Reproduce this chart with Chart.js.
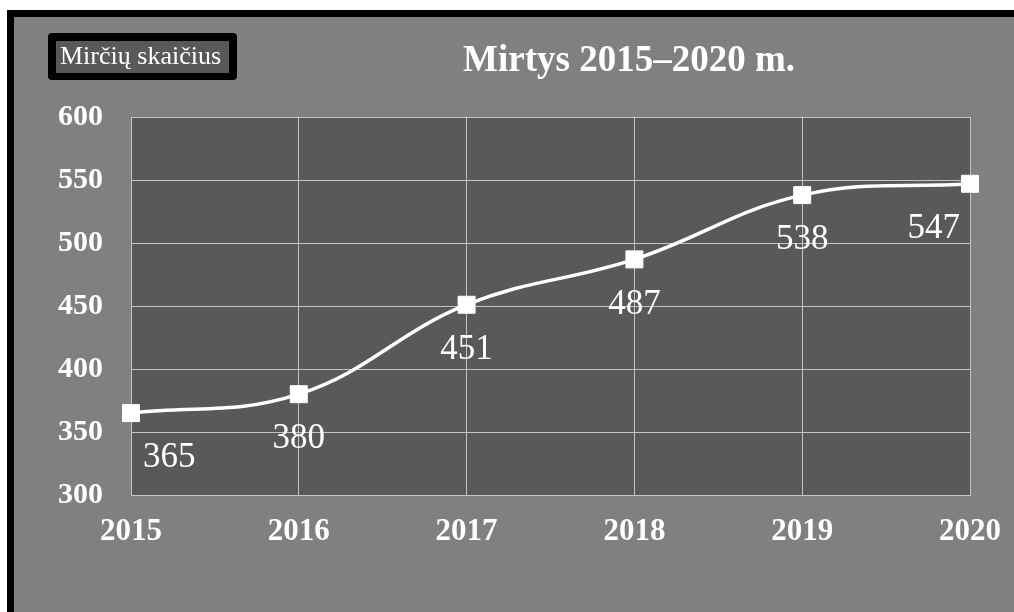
<!DOCTYPE html>
<html>
<head>
<meta charset="utf-8">
<script src="https://cdn.jsdelivr.net/npm/chart.js@4/dist/chart.umd.min.js"></script>
<style>
  html, body { margin: 0; padding: 0; background: #fff; }
  canvas { display: block; }
</style>
</head>
<body>
<canvas id="grafikas" width="1014" height="612"></canvas>
<script>
// Duomenys
const metai = ['2015', '2016', '2017', '2018', '2019', '2020'];
const mirtys = [365, 380, 451, 487, 538, 547];
const serijosPavadinimas = 'Mirčių skaičius';
const pavadinimas = 'Mirtys 2015–2020 m.';
const yMin = 300, yMax = 600, yZingsnis = 50;

const serif = "'Liberation Serif', 'Times New Roman', serif";
const tinklas = '#c4c4c4';

// Fonas, rėmelis ir braižymo srities spalva
const fonas = {
  id: 'fonas',
  beforeDraw(chart) {
    const c = chart.ctx, a = chart.chartArea;
    c.save();
    c.fillStyle = '#ffffff';
    c.fillRect(0, 0, chart.width, chart.height);
    c.fillStyle = '#000000';
    c.fillRect(7, 10, chart.width, chart.height);
    c.fillStyle = '#808080';
    c.fillRect(14, 17, chart.width, chart.height);
    c.fillStyle = '#595959';
    c.fillRect(a.left, a.top, a.right - a.left, a.bottom - a.top);
    c.restore();
  }
};

// Reikšmių etiketės po taškais
const etiketes = {
  id: 'etiketes',
  afterDatasetsDraw(chart) {
    const c = chart.ctx, a = chart.chartArea;
    const meta = chart.getDatasetMeta(0);
    c.save();
    c.font = '35px ' + serif;
    c.fillStyle = '#ffffff';
    c.textAlign = 'center';
    c.textBaseline = 'middle';
    meta.data.forEach((p, i) => {
      const t = String(chart.data.datasets[0].data[i]);
      const w = c.measureText(t).width;
      let x = p.x;
      x = Math.max(x, a.left + 12 + w / 2);
      x = Math.min(x, a.right - 10 - w / 2);
      c.fillText(t, x, p.y + 45);
    });
    c.restore();
  }
};

// Pavadinimas ir legenda
const antraste = {
  id: 'antraste',
  afterDraw(chart) {
    const c = chart.ctx;
    c.save();
    c.fillStyle = '#ffffff';
    c.font = 'bold 37px ' + serif;
    c.textAlign = 'center';
    c.textBaseline = 'middle';
    c.fillText(pavadinimas, 629, 61);

    // legendos langelis
    c.fillStyle = '#000000';
    c.beginPath();
    c.roundRect(48, 33, 189, 47, 4);
    c.fill();
    c.fillStyle = '#595959';
    c.fillRect(56, 41, 173, 32);
    c.fillStyle = '#ffffff';
    c.font = '26px ' + serif;
    c.textAlign = 'left';
    c.fillText(chart.data.datasets[0].label, 60, 57);
    c.restore();
  }
};

const ctx = document.getElementById('grafikas').getContext('2d');
const grafikas = new Chart(ctx, {
  type: 'line',
  data: {
    labels: metai,
    datasets: [{
      label: serijosPavadinimas,
      data: mirtys,
      borderColor: '#ffffff',
      borderWidth: 3.5,
      tension: 0.4,
      pointStyle: 'rect',
      pointRadius: 12,
      pointHoverRadius: 12,
      pointBackgroundColor: '#ffffff',
      pointBorderColor: '#ffffff',
      pointBorderWidth: 1,
      fill: false
    }]
  },
  options: {
    responsive: false,
    animation: false,
    devicePixelRatio: 1,
    layout: { padding: { left: 0, top: 117, right: 44, bottom: 0 } },
    plugins: {
      legend: { display: false },
      title: { display: false },
      tooltip: { enabled: false }
    },
    scales: {
      x: {
        offset: false,
        grid: { color: tinklas, lineWidth: 1, drawTicks: false },
        border: { color: tinklas, width: 1 },
        ticks: {
          color: '#ffffff',
          padding: 18,
          maxRotation: 0,
          font: { family: serif, size: 31, weight: 'bold' }
        },
        afterFit(axis) {
          axis.height = 612 - 495;
          axis.paddingLeft = 0;
          axis.paddingRight = 0;
        }
      },
      y: {
        min: yMin,
        max: yMax,
        grid: { color: tinklas, lineWidth: 1, drawTicks: false },
        border: { color: tinklas, width: 1 },
        ticks: {
          stepSize: yZingsnis,
          color: '#ffffff',
          padding: 28,
          font: { family: serif, size: 30, weight: 'bold' }
        },
        afterFit(axis) {
          axis.width = 131;
          axis.paddingTop = 0;
          axis.paddingBottom = 0;
        }
      }
    }
  },
  plugins: [fonas, etiketes, antraste]
});
</script>
</body>
</html>
